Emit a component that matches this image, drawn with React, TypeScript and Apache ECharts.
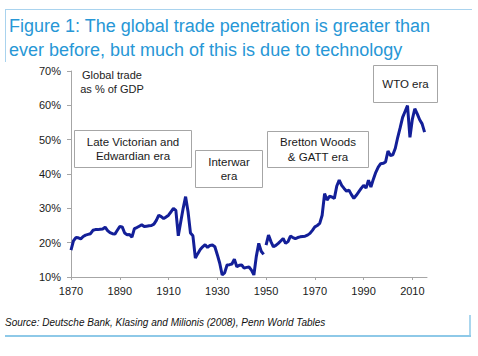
import React, { useEffect, useRef } from "react";
import * as echarts from "echarts";

const titleLines = [
  "Figure 1: The global trade penetration is greater than",
  "ever before, but much of this is due to technology",
];
const sourceText = "Source: Deutsche Bank, Klasing and Milionis (2008), Penn World Tables";
const yTicks = [10, 20, 30, 40, 50, 60, 70];
const xTicks = [1870, 1890, 1910, 1930, 1950, 1970, 1990, 2010];

// Global trade as % of GDP, 1870-1949
const firstStart = 1870;
const tradeEarly = [
  17.8, 20.5, 21.5, 21.4, 21.1, 21.8, 22.2, 22.4, 22.6, 23.6,
  23.8, 23.8, 23.9, 24.0, 24.5, 23.5, 22.9, 22.6, 22.5, 23.6,
  24.7, 24.6, 22.8, 22.3, 22.4, 21.6, 24.1, 24.4, 24.8, 25.2,
  24.7, 24.8, 24.9, 25.0, 25.4, 26.5, 28.0, 27.6, 27.0, 27.5,
  28.0, 29.0, 30.0, 29.4, 22.0, 26.0, 30.0, 33.4, 29.0, 22.8,
  22.0, 15.5, 16.8, 18.0, 18.8, 19.4, 18.6, 19.2, 19.3, 18.8,
  16.5, 14.0, 10.6, 11.2, 13.5, 13.6, 13.8, 15.2, 13.0, 13.4,
  13.5, 12.6, 12.8, 12.9, 12.0, 10.6, 16.0, 19.8, 17.5, 16.6,
];
// 1950-2015
const secondStart = 1950;
const tradeLate = [
  19.3, 22.2, 20.3, 18.8, 19.2, 19.8, 20.5, 21.2, 19.8, 20.3,
  21.9, 21.5, 21.2, 21.5, 21.7, 21.8, 21.9, 22.2, 22.7, 23.6,
  24.6, 25.0, 25.6, 28.0, 34.3, 32.4, 33.5, 33.3, 32.9, 36.5,
  38.2, 36.7, 35.8, 35.0, 35.3, 34.0, 32.9, 33.8, 34.8, 35.8,
  36.7, 35.9, 38.2, 36.2, 38.5, 40.5, 42.0, 43.0, 43.1, 43.5,
  46.7, 45.4, 45.6, 47.5, 50.7, 53.5, 56.5, 58.2, 59.9, 50.7,
  56.0, 59.0, 57.5, 55.8, 54.6, 52.2,
];

const eraBoxes = [
  { lines: ["Late Victorian and", "Edwardian era"], x: 74, y: 130, w: 117, h: 37 },
  { lines: ["Interwar", "era"], x: 195, y: 150, w: 67, h: 37 },
  { lines: ["Bretton Woods", "& GATT era"], x: 267, y: 131, w: 101, h: 36 },
  { lines: ["WTO era"], x: 373, y: 65, w: 64, h: 37 },
];

const FONT = "Liberation Sans, Arial, sans-serif";
const LINE_COLOR = "#131f98";

export default function App() {
  const ref = useRef<HTMLDivElement>(null);
  useEffect(() => {
    if (!ref.current) return;
    const chart = echarts.init(ref.current, undefined, { renderer: "svg" });
    const early = tradeEarly.map((v, i) => [firstStart + i, v]);
    const late = tradeLate.map((v, i) => [secondStart + i, v]);

    const graphics: any[] = [
      // frame lines
      { type: "line", shape: { x1: 5, y1: 9.5, x2: 472, y2: 9.5 }, style: { stroke: "#a9d3ee", lineWidth: 1 } },
      { type: "line", shape: { x1: 5.5, y1: 9, x2: 5.5, y2: 62 }, style: { stroke: "#a9d3ee", lineWidth: 1 } },
      { type: "line", shape: { x1: 5, y1: 336, x2: 471, y2: 336 }, style: { stroke: "#8ec9e8", lineWidth: 2 } },
      { type: "line", shape: { x1: 470, y1: 315, x2: 470, y2: 336 }, style: { stroke: "#8ec9e8", lineWidth: 1.5 } },
      // title
      ...titleLines.map((t, i) => ({
        type: "text",
        x: 9,
        y: 26 + i * 24,
        style: { text: t, fill: "#2797d6", fontSize: 18, fontFamily: FONT, verticalAlign: "middle", align: "left" },
      })),
      // source
      {
        type: "text",
        x: 5,
        y: 322,
        style: { text: sourceText, fill: "#111", fontSize: 10, fontStyle: "italic", fontFamily: FONT, verticalAlign: "middle" },
      },
      // y label
      {
        type: "text",
        x: 112,
        y: 75,
        style: { text: "Global trade", fill: "#222", fontSize: 11, fontFamily: FONT, align: "center", verticalAlign: "middle" },
      },
      {
        type: "text",
        x: 112,
        y: 89,
        style: { text: "as % of GDP", fill: "#222", fontSize: 11, fontFamily: FONT, align: "center", verticalAlign: "middle" },
      },
    ];
    eraBoxes.forEach((b) => {
      graphics.push({
        type: "rect",
        shape: { x: b.x + 0.5, y: b.y + 0.5, width: b.w, height: b.h },
        style: { fill: "#fff", stroke: "#a6a6a6", lineWidth: 1 },
        z: 10,
      });
      const n = b.lines.length;
      b.lines.forEach((t, i) => {
        graphics.push({
          type: "text",
          x: b.x + b.w / 2 + 0.5,
          y: b.y + b.h / 2 + (i - (n - 1) / 2) * 14.5 + 0.5,
          z: 11,
          style: { text: t, fill: "#1a1a1a", fontSize: 11.5, fontFamily: FONT, align: "center", verticalAlign: "middle" },
        });
      });
    });

    const lineStyle = { color: LINE_COLOR, width: 3 };
    chart.setOption({
      animation: false,
      grid: { left: 71, right: 51, top: 71, bottom: 79, containLabel: false },
      xAxis: {
        type: "value",
        min: 1870,
        max: 2016,
        interval: 20,
        axisLine: { show: true, lineStyle: { color: "#a6a6a6", width: 1 } },
        axisTick: { show: true, length: 3, lineStyle: { color: "#a6a6a6" }, customValues: xTicks },
        axisLabel: {
          color: "#1a1a1a",
          fontSize: 11,
          fontFamily: FONT,
          margin: 8,
          customValues: xTicks,
          formatter: (v: number) => String(v),
        },
        splitLine: { show: false },
      },
      yAxis: {
        type: "value",
        min: 10,
        max: 70,
        interval: 10,
        axisLine: { show: true, lineStyle: { color: "#a6a6a6", width: 1 } },
        axisTick: { show: true, length: 4, lineStyle: { color: "#a6a6a6" } },
        axisLabel: {
          color: "#1a1a1a",
          fontSize: 11,
          fontFamily: FONT,
          margin: 10,
          formatter: (v: number) => (yTicks.includes(v) ? `${v}%` : ""),
        },
        splitLine: { show: false },
      },
      series: [
        { type: "line", data: early, showSymbol: false, symbol: "none", lineStyle, z: 3 },
        { type: "line", data: late, showSymbol: false, symbol: "none", lineStyle, z: 3 },
      ],
      graphic: graphics,
    });
    return () => chart.dispose();
  }, []);
  return (
    <div
      ref={ref}
      style={{ position: "fixed", left: 0, top: 0, width: 478, height: 356, background: "#fff" }}
    />
  );
}
